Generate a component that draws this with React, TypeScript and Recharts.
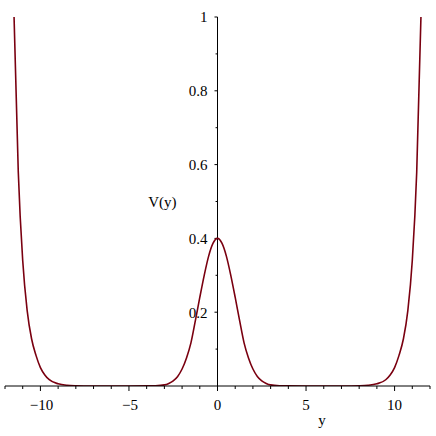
import React from 'react';
import { LineChart, Line, XAxis, YAxis, ReferenceLine, ReferenceDot } from 'recharts';

const FONT = 'Liberation Serif';

const yValues = [
  -12, -11.75, -11.5, -11.25, -11, -10.75, -10.5, -10.25, -10, -9.75, -9.5, -9, -8.5, -8, -7, -6, -5,
  -4, -3.5, -3, -2.75, -2.5, -2.25, -2, -1.75, -1.5, -1.25, -1, -0.75, -0.5, -0.25,
  0,
  0.25, 0.5, 0.75, 1, 1.25, 1.5, 1.75, 2, 2.25, 2.5, 2.75, 3, 3.5, 4,
  5, 6, 7, 8, 8.5, 9, 9.5, 9.75, 10, 10.25, 10.5, 10.75, 11, 11.25, 11.5, 11.75, 12,
];
const vValues = [
  2.8, 1.7, 1.02, 0.58, 0.34, 0.205, 0.128, 0.083, 0.05, 0.03, 0.017, 0.006, 0.002, 0.0008, 0.0001, 0, 0,
  0.0003, 0.0008, 0.003, 0.007, 0.014, 0.026, 0.046, 0.076, 0.117, 0.177, 0.24, 0.3, 0.352, 0.387,
  0.4,
  0.387, 0.352, 0.3, 0.24, 0.177, 0.117, 0.076, 0.046, 0.026, 0.014, 0.007, 0.003, 0.0008, 0.0003,
  0, 0, 0.0001, 0.0008, 0.002, 0.006, 0.017, 0.03, 0.05, 0.083, 0.128, 0.205, 0.34, 0.58, 1.02, 1.7, 2.8,
];

const xTicks = [-12, -11, -10, -9, -8, -7, -6, -5, -4, -3, -2, -1, 0, 1, 2, 3, 4, 5, 6, 7, 8, 9, 10, 11, 12];
const xLabelTicks = [-10, -5, 0, 5, 10];
const vTicks = [0.1, 0.2, 0.3, 0.4, 0.5, 0.6, 0.7, 0.8, 0.9, 1];
const vLabelTicks = [0.2, 0.4, 0.6, 0.8, 1];

const data = yValues.map((y, i) => ({ y, v: vValues[i] }));

const CURVE = '#7a0010';
const FS = 15;

const XTick = (props: any) => {
  const { x, y, payload } = props;
  const val = payload.value as number;
  const major = xLabelTicks.includes(val);
  const label = val < 0 ? `\u2212${Math.abs(val)}` : `${val}`;
  return (
    <g>
      <line x1={x} x2={x} y1={y} y2={y + (major ? 5 : 3)} stroke="#000" strokeWidth={1} />
      {major && (
        <text x={x + (val < 0 ? 1 : 0)} y={y + 24} textAnchor="middle" fontSize={FS} fontFamily={FONT} fill="#000">
          {label}
        </text>
      )}
    </g>
  );
};

const AxisName = (props: any) => {
  const vb = props.viewBox;
  return (
    <text x={vb.x + vb.width * 0.746} y={vb.y + 39} textAnchor="middle" fontSize={FS} fontFamily={FONT} fill="#000">
      y
    </text>
  );
};

export default function App() {
  return (
    <div style={{ position: 'absolute', left: 0, top: 0, background: '#fff' }}>
      <LineChart width={436} height={436} data={data} margin={{ top: 17, right: 6, bottom: 20, left: 5 }}>
        <XAxis
          dataKey="y"
          type="number"
          domain={[-12, 12]}
          ticks={xTicks}
          interval={0}
          tickSize={0}
          tickMargin={0}
          tick={<XTick />}
          height={30}
          stroke="#000"
          axisLine={{ stroke: '#000', strokeWidth: 1 }}
          label={AxisName}
        />
        <YAxis type="number" domain={[0, 1]} allowDataOverflow hide />
        <ReferenceLine
          x={0}
          stroke="#000"
          strokeWidth={1}
          label={{ value: 'V(y)', position: 'left', offset: 41, fontSize: FS, fontFamily: FONT, fill: '#000' }}
        />
        {vTicks.map((v) => {
          const major = vLabelTicks.some((m) => Math.abs(m - v) < 1e-9);
          return (
            <ReferenceLine
              key={`t${v}`}
              segment={[
                { x: major ? -0.17 : -0.11, y: v },
                { x: 0, y: v },
              ]}
              stroke="#000"
              strokeWidth={1}
            />
          );
        })}
        {vLabelTicks.map((v) => (
          <ReferenceDot
            key={`l${v}`}
            x={0}
            y={v}
            r={0}
            fill="none"
            stroke="none"
            label={{ value: String(v), position: 'left', offset: 10, fontSize: FS, fontFamily: FONT, fill: '#000' }}
          />
        ))}
        <Line
          type="monotone"
          dataKey="v"
          stroke={CURVE}
          strokeWidth={1.6}
          dot={false}
          isAnimationActive={false}
        />
      </LineChart>
    </div>
  );
}
